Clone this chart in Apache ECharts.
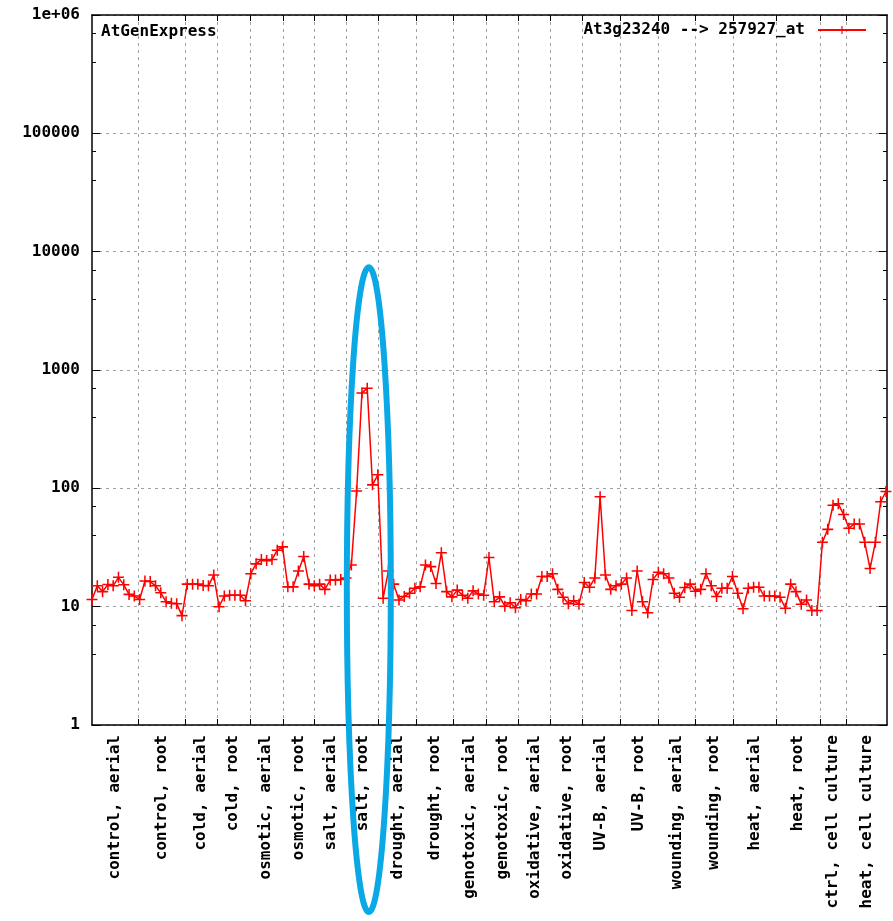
<!DOCTYPE html>
<html>
<head>
<meta charset="utf-8">
<script src="https://cdn.jsdelivr.net/npm/echarts@6/dist/echarts.min.js"></script>
<style>
html,body{margin:0;padding:0;background:#fff;}
#chart{width:893px;height:921px;}
</style>
</head>
<body>
<div id="chart"></div>
<script>
// ---- data ----
const categories = ['control, aerial','control, root','cold, aerial','cold, root','osmotic, aerial','osmotic, root','salt, aerial','salt, root','drought, aerial','drought, root','genotoxic, aerial','genotoxic, root','oxidative, aerial','oxidative, root','UV-B, aerial','UV-B, root','wounding, aerial','wounding, root','heat, aerial','heat, root','ctrl, cell culture','heat, cell culture'];
// segment boundaries in sample-index units
const boundaries = [0, 8.68, 17.55, 23.58, 29.81, 36.04, 42.08, 48.11, 54.15, 61.32, 68.30, 74.53, 80.57, 86.60, 92.64, 99.81, 106.98, 113.96, 121.13, 129.25, 137.55, 142.45, 150.2];
const expression = [
 11.5,15,13.4,15.4,15,17.7,15.3,12.7,12.3,
 11.5,16.5,16.3,15,13.1,11,10.7,10.6,8.4,
 15.5,15.5,15.5,15.1,15,18.5,
 10,12.3,12.5,12.5,12.5,11.2,
 19,23,25,24.5,25,30,32,
 14.7,14.7,20,26.5,15.5,
 15,15.5,14,16.8,16.8,17,17.5,
 22.5,95,640,700,107,130,
 11.8,20,15.5,11.4,12.2,13,14.3,
 14.7,22.5,21.8,15.7,28.5,13.4,12.1,
 13.8,12.5,11.8,13.6,12.8,12.5,
 26,11,12.1,10.1,10.8,9.8,
 11.5,11.2,12.8,12.8,18,18,
 19,14,12,10.6,11.2,10.5,
 16,14.6,17.5,85,18.5,14,15,
 15.5,17.5,9.3,20,11,8.9,17,
 19.5,19,17.5,13,12,14.5,15.5,
 13.5,14,19,15,12.2,14.3,14.3,
 18,13,9.6,14.3,14.6,14.6,12.3,12.3,
 12.3,12,9.7,15.5,13.4,10.5,11.4,9.3,
 9.3,35,45,72,74,
 60,46,50,50,35,21,35,77,94
];
const yTickLabels = ['1','10','100','1000','10000','100000','1e+06'];
const seriesName = 'At3g23240 --> 257927_at';
const titleText = 'AtGenExpress';
// annotation (highlight of salt, root): centre index, top value
const annotation = {x: 52.3, topValue: 7400};

// ---- derived ----
const innerB = boundaries.slice(1, -1);
const centers = [];
for (let k = 0; k < categories.length; k++) centers.push((boundaries[k] + boundaries[k+1]) / 2);
function labelFor(v) {
  let best = 0, bd = Infinity;
  centers.forEach((c, i) => { const d = Math.abs(c - v); if (d < bd) { bd = d; best = i; } });
  return categories[best];
}
const FONT = 'DejaVu Sans Mono';
const FS = 16;
const txt = {fontFamily: FONT, fontWeight: 'bold', fontSize: FS, color: '#000'};
const plus = 'path://M4.3,0h1.4v4.3h4.3v1.4h-4.3v4.3h-1.4v-4.3h-4.3v-1.4h4.3z';
const gridDash = {color: '#a0a0a0', width: 1, type: [3, 4]};
const titleGraphic = {
  type: 'text', left: 101, top: 24,
  style: {text: titleText, font: 'bold ' + FS + 'px "' + FONT + '"', fill: '#000'}
};

const chart = echarts.init(document.getElementById('chart'), null, {renderer: 'canvas'});
const option = {
  animation: false,
  backgroundColor: '#fff',
  grid: {left: 92, right: 6, top: 15, bottom: 196, containLabel: false},
  legend: {
    show: true, right: 26, top: 22, padding: 0, align: 'right', selectedMode: false,
    itemWidth: 48, itemHeight: 10,
    textStyle: Object.assign({}, txt, {padding: [0, 8, 0, 0]}),
    data: [seriesName]
  },
  graphic: [titleGraphic],
  xAxis: [{
    type: 'value', min: 0, max: boundaries[boundaries.length - 1], position: 'bottom',
    axisLine: {show: true, onZero: false, lineStyle: {color: '#000', width: 1.5}},
    axisTick: {show: true, inside: true, length: 6, customValues: innerB, lineStyle: {color: '#000', width: 1}},
    axisLabel: Object.assign({show: true, customValues: centers, rotate: 90, margin: 10, formatter: v => labelFor(v)}, txt),
    splitLine: {show: true, lineStyle: gridDash}
  }, {
    type: 'value', min: 0, max: boundaries[boundaries.length - 1], position: 'top',
    axisLine: {show: true, onZero: false, lineStyle: {color: '#000', width: 1.5}},
    axisTick: {show: true, inside: true, length: 6, customValues: innerB, lineStyle: {color: '#000', width: 1}},
    axisLabel: {show: false},
    splitLine: {show: false}
  }],
  yAxis: [{
    type: 'log', logBase: 10, min: 1, max: 1e6, position: 'left',
    axisLine: {show: true, onZero: false, lineStyle: {color: '#000', width: 1.5}},
    axisTick: {show: true, inside: true, length: 8, lineStyle: {color: '#000'}},
    minorTick: {show: true, splitNumber: 3, length: 4, lineStyle: {color: '#000'}},
    axisLabel: Object.assign({margin: 12, formatter: v => yTickLabels[Math.round(Math.log10(v))]}, txt),
    splitLine: {show: true, lineStyle: gridDash}
  }, {
    type: 'log', logBase: 10, min: 1, max: 1e6, position: 'right',
    axisLine: {show: true, onZero: false, lineStyle: {color: '#000', width: 1.5}},
    axisTick: {show: true, inside: true, length: 8, lineStyle: {color: '#000'}},
    minorTick: {show: true, splitNumber: 3, length: 4, lineStyle: {color: '#000'}},
    axisLabel: {show: false},
    splitLine: {show: false}
  }],
  series: [{
    name: seriesName, type: 'line', xAxisIndex: 0, yAxisIndex: 0,
    data: expression.map((v, i) => [i, v]),
    symbol: plus, symbolSize: 11, showAllSymbol: true,
    lineStyle: {color: '#ff0000', width: 1.5},
    itemStyle: {color: '#ff0000'},
    emphasis: {disabled: true}
  }]
};
chart.setOption(option);

// highlight ellipse anchored on data coordinates
const cx = chart.convertToPixel({xAxisIndex: 0}, annotation.x);
const topPx = chart.convertToPixel({yAxisIndex: 0}, annotation.topValue);
const bottomPx = chart.getHeight() - 9;
chart.setOption({
  graphic: [titleGraphic, {
    type: 'ellipse', z: 100,
    shape: {cx: cx, cy: (topPx + bottomPx) / 2, rx: 22, ry: (bottomPx - topPx) / 2},
    style: {fill: 'none', stroke: '#0aa9e6', lineWidth: 6}
  }]
});
</script>
</body>
</html>
